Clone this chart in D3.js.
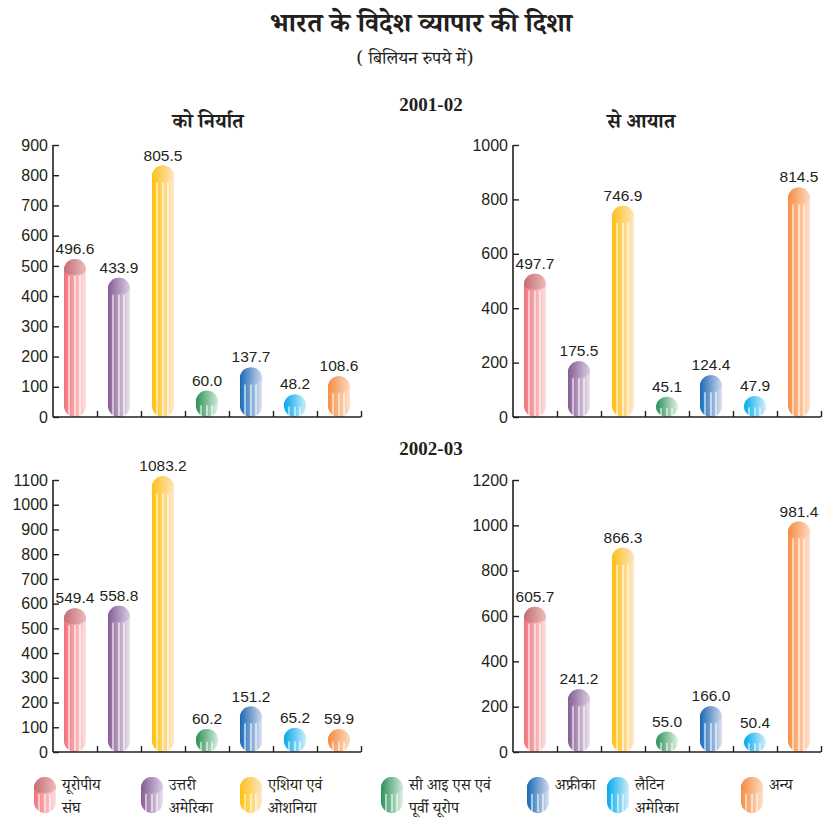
<!DOCTYPE html>
<html>
<head>
<meta charset="utf-8">
<script src="https://cdn.jsdelivr.net/npm/d3@7"></script>
<style>
  body { margin: 0; background: #fff; }
  .hi { font-family: "Noto Serif Devanagari", "Noto Sans Devanagari", "Lohit Devanagari", "FreeSerif", "Noto Sans", serif; }
  .num { font-family: "Liberation Sans", Arial, sans-serif; }
</style>
</head>
<body>
<svg id="chart" width="824" height="823"></svg>
<script>
// Data
const categories = ['यूरोपीय संघ', 'उत्तरी अमेरिका', 'एशिया एवं ओशनिया', 'सी आइ एस एवं पूर्वी यूरोप', 'अफ्रीका', 'लैटिन अमेरिका', 'अन्य'];
const legendLines = [['यूरोपीय', 'संघ'], ['उत्तरी', 'अमेरिका'], ['एशिया एवं', 'ओशनिया'], ['सी आइ एस एवं', 'पूर्वी यूरोप'], ['अफ्रीका'], ['लैटिन', 'अमेरिका'], ['अन्य']];
const exports2001 = [496.6, 433.9, 805.5, 60.0, 137.7, 48.2, 108.6];
const imports2001 = [497.7, 175.5, 746.9, 45.1, 124.4, 47.9, 814.5];
const exports2002 = [549.4, 558.8, 1083.2, 60.2, 151.2, 65.2, 59.9];
const imports2002 = [605.7, 241.2, 866.3, 55.0, 166.0, 50.4, 981.4];
const exportTicks2001 = d3.range(0, 901, 100);
const importTicks2001 = d3.range(0, 1001, 200);
const exportTicks2002 = d3.range(0, 1101, 100);
const importTicks2002 = d3.range(0, 1201, 200);

// colours: [left, right] of the gradient, and the darker cap
const barColors = [
  ['#f0717b', '#fde1dd'],
  ['#875a93', '#ebe3ef'],
  ['#ffc00a', '#ffe8d0'],
  ['#2a9156', '#e2f1e6'],
  ['#176ab5', '#dee2f3'],
  ['#00abee', '#d3effc'],
  ['#f78f45', '#fee2cb']
];
const capColors = [
  ['#c46d75', '#eabdba'],
  ['#835c97', '#dacde2'],
  ['#fdc01a', '#ffe4c0'],
  ['#2a9156', '#d3eadb'],
  ['#1c69b2', '#d0d7ee'],
  ['#05a7e8', '#caedfb'],
  ['#f48b43', '#fcdabf']
];

const ink = '#231f20';
const svg = d3.select('#chart');

// gradients
const defs = svg.append('defs');
function addGrad(id, c) {
  const g = defs.append('linearGradient').attr('id', id)
    .attr('x1', 0).attr('x2', 1).attr('y1', 0).attr('y2', 0);
  g.append('stop').attr('offset', '0%').attr('stop-color', c[0]);
  g.append('stop').attr('offset', '100%').attr('stop-color', c[1]);
}
barColors.forEach((c, i) => addGrad('body' + i, c));
capColors.forEach((c, i) => addGrad('cap' + i, c));

// Titles
svg.append('text').attr('class', 'hi').attr('x', 421).attr('y', 32)
  .attr('text-anchor', 'middle').attr('font-size', 27).attr('font-weight', 'bold')
  .attr('fill', ink).text('भारत के विदेश व्यापार की दिशा');
svg.append('text').attr('class', 'hi').attr('x', 415).attr('y', 64)
  .attr('text-anchor', 'middle').attr('font-size', 18)
  .attr('fill', ink).text('( बिलियन रुपये में)');

function yearTitle(txt, y) {
  svg.append('text').attr('x', 431).attr('y', y)
    .attr('text-anchor', 'middle').attr('font-size', 19).attr('font-weight', 'bold')
    .attr('font-family', '"Liberation Serif", "Times New Roman", serif')
    .attr('fill', ink).text(txt);
}
yearTitle('2001-02', 111);
yearTitle('2002-03', 455);

svg.append('text').attr('class', 'hi').attr('x', 208).attr('y', 128)
  .attr('text-anchor', 'middle').attr('font-size', 20).attr('font-weight', 'bold')
  .attr('fill', ink).text('को निर्यात');
svg.append('text').attr('class', 'hi').attr('x', 641).attr('y', 128)
  .attr('text-anchor', 'middle').attr('font-size', 20).attr('font-weight', 'bold')
  .attr('fill', ink).text('से आयात');

// draws a pill shaped bar with a cap and white stripes
function drawPill(g, cx, top, bottom, w, i) {
  const r = w / 2;
  const h = bottom - top;
  g.append('rect')
    .attr('x', cx - r).attr('y', top)
    .attr('width', w).attr('height', h)
    .attr('rx', r).attr('ry', Math.min(r, h / 2))
    .attr('fill', 'url(#body' + i + ')');
  if (h > 2 * r) {
    g.append('path')
      .attr('d', 'M' + (cx - r) + ',' + (top + r) +
        ' A' + r + ',' + r + ' 0 0 1 ' + (cx + r) + ',' + (top + r) +
        ' A' + r + ',5 0 0 1 ' + (cx - r) + ',' + (top + r) + ' Z')
      .attr('fill', 'url(#cap' + i + ')');
  }
  const s0 = top + Math.min(17, h * 0.55);
  [-6, 0, 5].forEach(function(dx) {
    g.append('line')
      .attr('x1', cx + dx).attr('x2', cx + dx)
      .attr('y1', s0).attr('y2', bottom - 1)
      .attr('stroke', '#fff').attr('stroke-width', 1.1);
  });
}

function panel(values, ticks, x0, yBottom, yTop) {
  const g = svg.append('g');
  const y = d3.scaleLinear().domain([0, d3.max(ticks)]).range([yBottom, yTop]);
  const x = d3.scaleBand().domain(categories).range([x0, x0 + 308]);
  const xi = d3.scaleLinear().domain([0, 7]).range([x0, x0 + 308]);
  const barW = 22;

  categories.forEach(function(c, i) {
    const cx = x(c) + x.bandwidth() / 2;
    const top = y(values[i]) - 8;
    drawPill(g, cx, top, y(0), barW, i);
    g.append('text').attr('class', 'num')
      .attr('x', cx).attr('y', top - 5)
      .attr('text-anchor', 'middle').attr('font-size', 15.5)
      .attr('fill', ink).text(values[i].toFixed(1));
  });

  const yAxis = g.append('g').attr('transform', 'translate(' + x0 + ',0)')
    .call(d3.axisLeft(y).tickValues(ticks).tickSize(-6).tickPadding(5).tickFormat(d3.format('d')));
  const xAxis = g.append('g').attr('transform', 'translate(0,' + yBottom + ')')
    .call(d3.axisBottom(xi).tickValues(d3.range(1, 8)).tickSize(-6).tickFormat(''));
  [yAxis, xAxis].forEach(function(a) {
    a.select('.domain').attr('stroke', ink).attr('stroke-width', 1.6);
    a.selectAll('.tick line').attr('stroke', ink).attr('stroke-width', 1.4);
    a.selectAll('.tick text').attr('fill', ink).attr('font-size', 16)
      .attr('font-family', '"Liberation Sans", Arial, sans-serif');
  });
  yAxis.select('.domain').attr('d', 'M0,' + yBottom + 'V' + yTop + 'H-0');
  xAxis.select('.domain').attr('d', 'M' + x0 + ',0H' + (x0 + 308));
}

panel(exports2001, exportTicks2001, 53, 417, 145);
panel(imports2001, importTicks2001, 513, 417, 145);
panel(exports2002, exportTicks2002, 53, 752, 480);
panel(imports2002, importTicks2002, 513, 752, 480);

// Legend
const legendX = [34, 141, 240, 381, 527, 607, 741];
const legend = svg.append('g');
categories.forEach(function(c, i) {
  const lx = legendX[i];
  drawPill(legend, lx + 11, 777, 813, 22, i);
  legendLines[i].forEach(function(line, k) {
    legend.append('text').attr('class', 'hi')
      .attr('x', lx + 28).attr('y', 790 + k * 23)
      .attr('font-size', 15.5).attr('fill', ink).text(line);
  });
});
</script>
</body>
</html>
